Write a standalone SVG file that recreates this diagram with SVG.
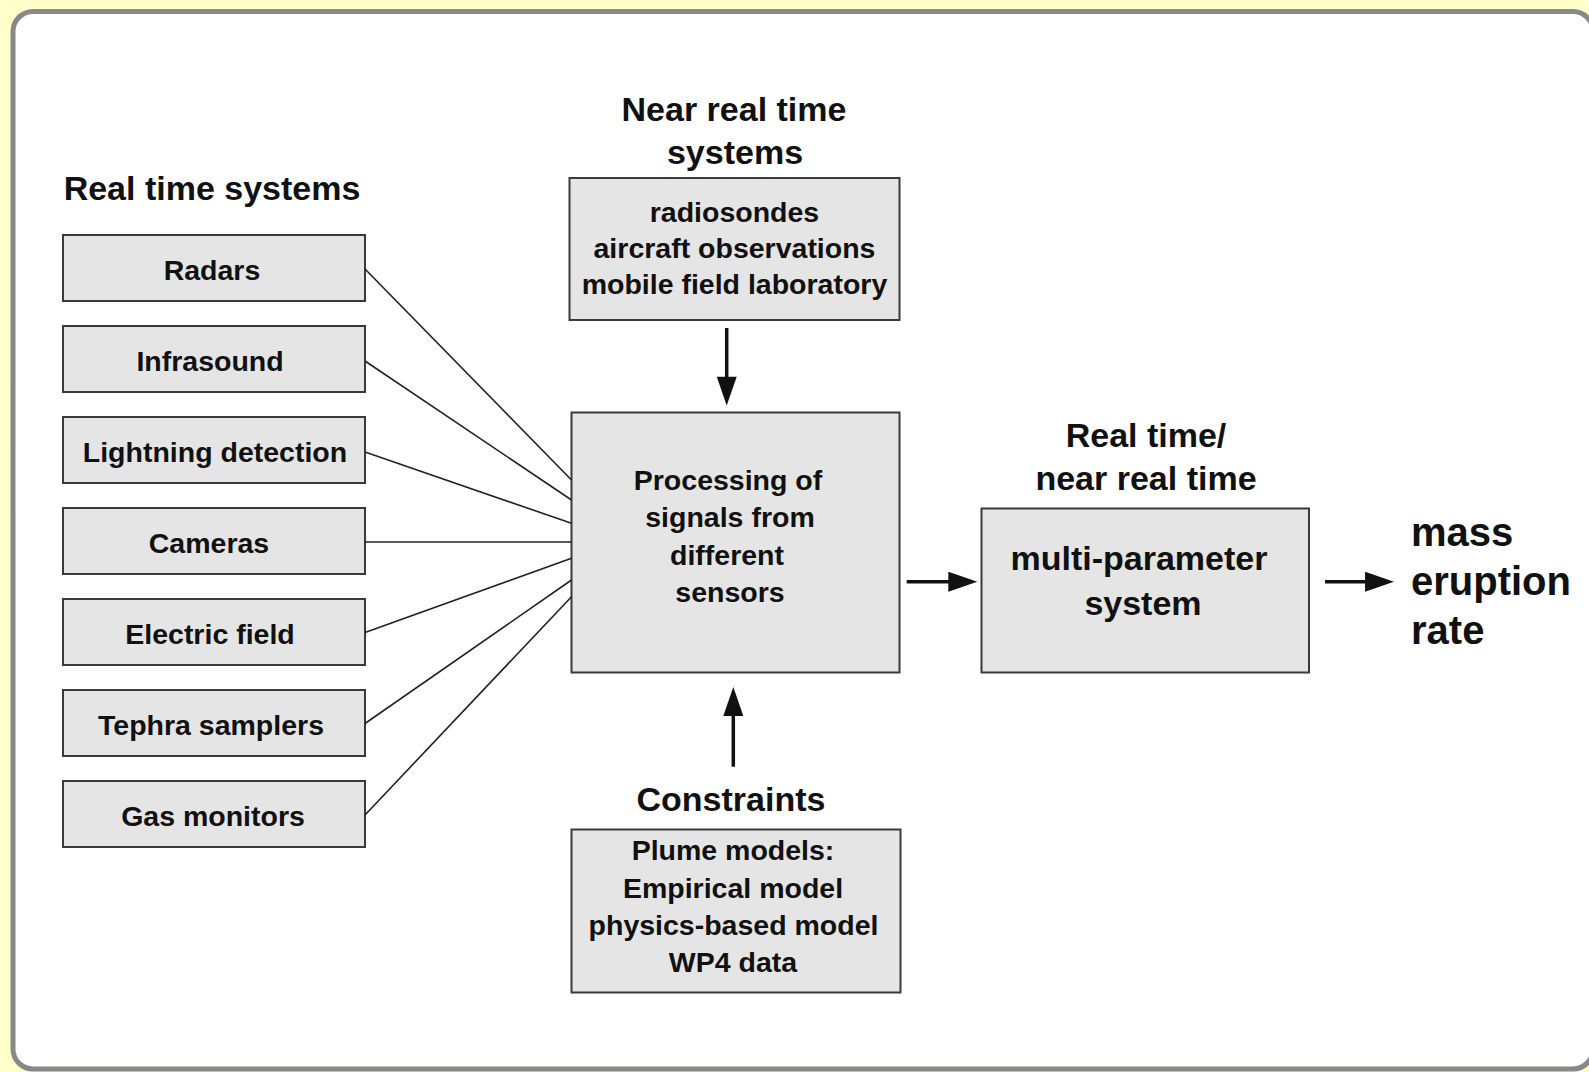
<svg xmlns="http://www.w3.org/2000/svg" width="1589" height="1072" viewBox="0 0 1589 1072">
<style>
.box{fill:#e5e5e5;stroke:#3a3a3a;stroke-width:2}
.t{font-family:"Liberation Sans",Arial,sans-serif;font-weight:bold;fill:#111;text-anchor:middle}
.s{font-size:28.5px}
.h{font-size:34px}
.big{font-size:40px;text-anchor:start}
.ln{stroke:#222;stroke-width:1.6;fill:none}
.ar{stroke:#111;stroke-width:3.5;fill:none}
</style>
<defs>
<marker id="ah" markerUnits="userSpaceOnUse" markerWidth="30" markerHeight="20" viewBox="0 0 26 18" refX="6" refY="9" orient="auto">
<path d="M0,0 L26,9 L0,18 z" fill="#111"/>
</marker>
</defs>
<rect x="0" y="0" width="1589" height="1072" fill="#ffffcc"/>
<rect x="13" y="11.5" width="1580" height="1057.5" rx="20" fill="#ffffff" stroke="#888" stroke-width="5"/>

<text class="t h" x="212" y="200">Real time systems</text>
<text class="t h" x="734" y="121">Near real time</text>
<text class="t h" x="735" y="164">systems</text>
<text class="t h" x="1146" y="446.5">Real time/</text>
<text class="t h" x="1146" y="489.5">near real time</text>
<text class="t h" x="731" y="811">Constraints</text>

<g id="radars"><rect class="box" x="63" y="235" width="302" height="66"/><text class="t s" x="212" y="280">Radars</text></g>
<g id="infrasound"><rect class="box" x="63" y="326" width="302" height="66"/><text class="t s" x="210" y="371">Infrasound</text></g>
<g id="lightning"><rect class="box" x="63" y="417" width="302" height="66"/><text class="t s" x="215" y="462">Lightning detection</text></g>
<g id="cameras"><rect class="box" x="63" y="508" width="302" height="66"/><text class="t s" x="209" y="553">Cameras</text></g>
<g id="electric"><rect class="box" x="63" y="599" width="302" height="66"/><text class="t s" x="210" y="644">Electric field</text></g>
<g id="tephra"><rect class="box" x="63" y="690" width="302" height="66"/><text class="t s" x="211" y="735">Tephra samplers</text></g>
<g id="gas"><rect class="box" x="63" y="781" width="302" height="66"/><text class="t s" x="213" y="826">Gas monitors</text></g>

<g id="nearrealtime"><rect class="box" x="569.5" y="178" width="330" height="142"/>
<text class="t s" x="734.5" y="222">radiosondes</text>
<text class="t s" x="734.5" y="258">aircraft observations</text>
<text class="t s" x="734.5" y="294">mobile field laboratory</text></g>

<g id="processing"><rect class="box" x="571.5" y="412.5" width="328" height="260"/>
<text class="t s" x="728" y="490">Processing of</text>
<text class="t s" x="730" y="527">signals from</text>
<text class="t s" x="727" y="565">different</text>
<text class="t s" x="730" y="602">sensors</text></g>

<g id="multiparameter"><rect class="box" x="981.5" y="508.5" width="327.5" height="164"/>
<text class="t h" x="1139" y="570">multi-parameter</text>
<text class="t h" x="1143" y="615">system</text></g>

<g id="constraints"><rect class="box" x="571.5" y="829.5" width="329" height="163"/>
<text class="t s" x="733" y="860">Plume models:</text>
<text class="t s" x="733" y="897.5">Empirical model</text>
<text class="t s" x="733.5" y="935">physics-based model</text>
<text class="t s" x="733" y="972">WP4 data</text></g>

<g id="output"><text class="t big" x="1411" y="546">mass</text>
<text class="t big" x="1411" y="595">eruption</text>
<text class="t big" x="1411" y="644">rate</text></g>

<g id="connectors">
<line class="ln" x1="365" y1="269" x2="571.5" y2="480"/>
<line class="ln" x1="365" y1="361" x2="571.5" y2="500"/>
<line class="ln" x1="365" y1="452" x2="571.5" y2="523.3"/>
<line class="ln" x1="365" y1="542" x2="571.5" y2="542"/>
<line class="ln" x1="365" y1="632.5" x2="571.5" y2="558.3"/>
<line class="ln" x1="365" y1="723.5" x2="571.5" y2="580"/>
<line class="ln" x1="365" y1="815" x2="571.5" y2="596.7"/>
<line class="ar" x1="726.7" y1="328" x2="726.7" y2="383.3" marker-end="url(#ah)"/>
<line class="ar" x1="733.3" y1="766.7" x2="733.3" y2="709.3" marker-end="url(#ah)"/>
<line class="ar" x1="906.7" y1="581.7" x2="955" y2="581.7" marker-end="url(#ah)"/>
<line class="ar" x1="1325" y1="581.7" x2="1371.7" y2="581.7" marker-end="url(#ah)"/>
</g>
</svg>
